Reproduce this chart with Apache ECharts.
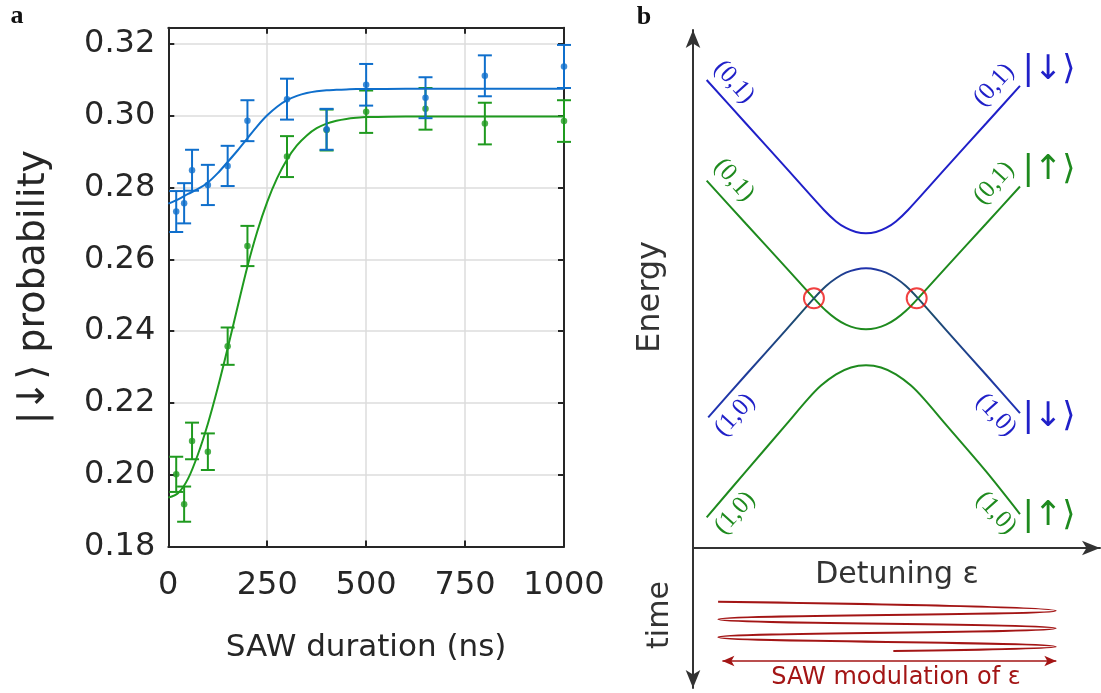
<!DOCTYPE html>
<html><head><meta charset="utf-8">
<script src="https://cdn.jsdelivr.net/npm/echarts@6/dist/echarts.min.js"></script>
<style>html,body{margin:0;padding:0;background:#fff}#c{width:1101px;height:693px}</style>
</head><body><div id="c"></div>
<script>
// ---------- panel a data ----------
const durations = [20, 40, 60, 100, 150, 200, 300, 400, 500, 650, 800, 1000];
const downProb = [0.2733, 0.2756, 0.2848, 0.2807, 0.2860, 0.2986, 0.3046, 0.2962, 0.3086, 0.3050, 0.3111, 0.3137];
const downErr  = [0.0057, 0.0056, 0.0057, 0.0056, 0.0056, 0.0057, 0.0057, 0.0057, 0.0058, 0.0057, 0.0057, 0.0060];
const upProb   = [0.2001, 0.1918, 0.2094, 0.2064, 0.2358, 0.2637, 0.2886, 0.2960, 0.3011, 0.3019, 0.2978, 0.2985];
const upErr    = [0.0049, 0.0049, 0.0051, 0.0051, 0.0052, 0.0056, 0.0057, 0.0057, 0.0059, 0.0058, 0.0058, 0.0058];
const fitX    = [0, 25, 50, 75, 100, 125, 150, 175, 200, 225, 250, 275, 300, 325, 350, 375, 400, 425, 450, 475, 500, 600, 800, 1000];
const fitDown = [0.2755, 0.2767, 0.2782, 0.2796, 0.2814, 0.2840, 0.2871, 0.2903, 0.2937, 0.2971, 0.3001, 0.3025, 0.3043, 0.3055, 0.3063, 0.3068, 0.3071, 0.3072, 0.3073, 0.3074, 0.3074, 0.3075, 0.3075, 0.3075];
const fitUp   = [0.1936, 0.1949, 0.1989, 0.2057, 0.2142, 0.2242, 0.2352, 0.2467, 0.2580, 0.2678, 0.2760, 0.2826, 0.2878, 0.2917, 0.2945, 0.2965, 0.2978, 0.2986, 0.2991, 0.2994, 0.2996, 0.2998, 0.2998, 0.2998];
const xTicks = [0, 250, 500, 750, 1000];
const yTicks = [0.18, 0.20, 0.22, 0.24, 0.26, 0.28, 0.30, 0.32];

// ---------- panel b data (detuning, energy in arbitrary units) ----------
const level01Down = [[-0.921,9.035],[-0.694,8.195],[-0.462,7.338],[-0.243,6.525],[-0.173,6.305],[-0.116,6.178],[-0.058,6.100],[0,6.075],[0.058,6.100],[0.116,6.178],[0.173,6.305],[0.243,6.525],[0.462,7.338],[0.694,8.195],[0.890,8.921]];
const level01Up   = [[-0.921,7.091],[-0.694,6.259],[-0.462,5.413],[-0.301,4.820],[-0.231,4.579],[-0.173,4.423],[-0.116,4.311],[-0.058,4.245],[0,4.222],[0.058,4.245],[0.116,4.311],[0.173,4.423],[0.231,4.579],[0.301,4.820],[0.462,5.413],[0.694,6.259],[0.890,6.979]];
const level10Down = [[-0.912,2.523],[-0.694,3.344],[-0.462,4.212],[-0.301,4.820],[-0.231,5.058],[-0.173,5.207],[-0.116,5.315],[-0.058,5.378],[0,5.400],[0.058,5.378],[0.116,5.315],[0.173,5.207],[0.231,5.058],[0.301,4.820],[0.462,4.212],[0.694,3.344],[0.890,2.604]];
const level10Up   = [[-0.921,0.593],[-0.694,1.479],[-0.462,2.382],[-0.335,2.878],[-0.260,3.135],[-0.173,3.353],[-0.087,3.485],[0,3.527],[0.087,3.485],[0.173,3.353],[0.260,3.135],[0.335,2.878],[0.462,2.382],[0.694,1.479],[0.890,0.656]];
const crossings   = [[-0.301,4.820],[0.293,4.820]];
// SAW sweep: detuning vs time (time axis points downward)
const sawWave = [[-0.855,3.84],[1.097,4.48],[-0.854,5.09],[1.097,5.74],[-0.854,6.38],[1.097,7.05],[0.158,7.36]];
const sawArrowX = [-0.83, 1.10];
const sawArrowT = 8.07;

const BLUE = '#0f6fcc', GREEN = '#1f9a1f';
const LBLUE = '#2020c8', LGREEN = '#1e8a1e', RED = '#a31515';
const AX = '#262626';
const SANS = '"DejaVu Sans", "Liberation Sans", sans-serif';
const SERIF = '"Liberation Serif", serif';

function zip(xs, ys) { return xs.map((x, i) => [x, ys[i]]); }
function errData(xs, ys, es) { return xs.map((x, i) => [x, ys[i], es[i]]); }
function errRender(color) {
  return function (params, api) {
    const x = api.value(0), y = api.value(1), e = api.value(2);
    const t = api.coord([x, y + e]), b = api.coord([x, y - e]);
    const hw = 7, st = { stroke: color, lineWidth: 2 };
    return { type: 'group', children: [
      { type: 'line', shape: { x1: t[0], y1: t[1], x2: b[0], y2: b[1] }, style: st },
      { type: 'line', shape: { x1: t[0] - hw, y1: t[1], x2: t[0] + hw, y2: t[1] }, style: st },
      { type: 'line', shape: { x1: b[0] - hw, y1: b[1], x2: b[0] + hw, y2: b[1] }, style: st }
    ]};
  };
}
const yFmt = v => yTicks.some(t => Math.abs(t - v) < 1e-6) ? v.toFixed(2) : '';
const xFmt = v => xTicks.some(t => Math.abs(t - v) < 1e-6) ? String(Math.round(v)) : '';

const boxAxis = {
  axisLine: { show: true, onZero: false, lineStyle: { color: AX, width: 2 } },
  axisTick: { show: true, inside: true, length: 6, lineStyle: { color: AX, width: 2 } }
};
const hidden = { show: false };
function arrowLine(sym) {
  return { show: true, onZero: false, symbol: sym, symbolSize: [11, 18], lineStyle: { color: '#333', width: 2 } };
}
function txt(x, y, text, font, fill, rot) {
  return { type: 'text', x: x, y: y, rotation: rot || 0,
    style: { text: text, font: font, fill: fill, align: 'center', verticalAlign: 'middle' } };
}
const D45 = 0.84;

const chart = echarts.init(document.getElementById('c'), null, { renderer: 'canvas' });
chart.setOption({
  animation: false,
  grid: [
    { left: 168.3, top: 27.7, width: 395.7, height: 518.8 },
    { left: 693, top: 30, width: 407, height: 518 },
    { left: 693, top: 548, width: 407, height: 140 }
  ],
  xAxis: [
    Object.assign({ gridIndex: 0, type: 'value', min: 0, max: 1000, interval: 250, position: 'bottom',
      axisLabel: { formatter: xFmt, margin: 23, fontSize: 32, fontFamily: SANS, color: AX },
      splitLine: { show: true, lineStyle: { color: '#dcdcdc', width: 1.5 } },
      name: 'SAW duration (ns)', nameLocation: 'middle', nameGap: 86,
      nameTextStyle: { fontSize: 31, fontFamily: SANS, color: AX } }, boxAxis),
    Object.assign({ gridIndex: 0, type: 'value', min: 0, max: 1000, interval: 250, position: 'top',
      axisLabel: { show: false }, splitLine: { show: false } }, boxAxis),
    { gridIndex: 1, type: 'value', min: -1, max: 1.3526, axisLine: arrowLine(['none', 'arrow']),
      axisTick: hidden, axisLabel: hidden, splitLine: hidden },
    { gridIndex: 2, type: 'value', min: -1, max: 1.3526, show: false }
  ],
  yAxis: [
    Object.assign({ gridIndex: 0, type: 'value', min: 0.18, max: 0.3245, interval: 0.02, position: 'left',
      axisLabel: { formatter: yFmt, margin: 13, fontSize: 32, fontFamily: SANS, color: AX, showMaxLabel: false },
      splitLine: { show: true, lineStyle: { color: '#dcdcdc', width: 1.5 } },
      name: '|↓⟩ probability', nameLocation: 'middle', nameGap: 115, nameRotate: 90,
      nameTextStyle: { fontSize: 38, fontFamily: SANS, color: AX } }, boxAxis),
    Object.assign({ gridIndex: 0, type: 'value', min: 0.18, max: 0.3245, interval: 0.02, position: 'right',
      axisLabel: { show: false }, splitLine: { show: false } }, boxAxis),
    { gridIndex: 1, type: 'value', min: 0, max: 10, axisLine: arrowLine(['none', 'arrow']),
      axisTick: hidden, axisLabel: hidden, splitLine: hidden },
    { gridIndex: 2, type: 'value', min: 0, max: 10, inverse: true, axisLine: arrowLine(['arrow', 'none']),
      axisTick: hidden, axisLabel: hidden, splitLine: hidden }
  ],
  series: [
    { type: 'line', xAxisIndex: 0, yAxisIndex: 0, data: zip(fitX, fitUp), showSymbol: false, smooth: 0.3,
      lineStyle: { color: GREEN, width: 2 }, z: 3 },
    { type: 'custom', xAxisIndex: 0, yAxisIndex: 0, data: errData(durations, upProb, upErr), renderItem: errRender(GREEN), z: 4 },
    { type: 'scatter', xAxisIndex: 0, yAxisIndex: 0, data: zip(durations, upProb), symbolSize: 6.5,
      itemStyle: { color: GREEN }, z: 5 },
    { type: 'line', xAxisIndex: 0, yAxisIndex: 0, data: zip(fitX, fitDown), showSymbol: false, smooth: 0.3,
      lineStyle: { color: BLUE, width: 2 }, z: 6 },
    { type: 'custom', xAxisIndex: 0, yAxisIndex: 0, data: errData(durations, downProb, downErr), renderItem: errRender(BLUE), z: 7 },
    { type: 'scatter', xAxisIndex: 0, yAxisIndex: 0, data: zip(durations, downProb), symbolSize: 6.5,
      itemStyle: { color: BLUE }, z: 8 },

    { type: 'line', xAxisIndex: 2, yAxisIndex: 2, data: level01Down, showSymbol: false, smooth: 0.3,
      lineStyle: { color: LBLUE, width: 2 } },
    { type: 'line', xAxisIndex: 2, yAxisIndex: 2, data: level01Up, showSymbol: false, smooth: 0.3,
      lineStyle: { color: LGREEN, width: 2 } },
    { type: 'line', xAxisIndex: 2, yAxisIndex: 2, data: level10Down, showSymbol: false, smooth: 0.3,
      lineStyle: { width: 2, color: new echarts.graphic.LinearGradient(0, 0, 1, 0, [
        { offset: 0, color: '#2030b8' }, { offset: 0.34, color: '#1d5066' },
        { offset: 0.5, color: '#2030b0' }, { offset: 0.67, color: '#1d5066' }, { offset: 1, color: '#2030b8' }]) } },
    { type: 'line', xAxisIndex: 2, yAxisIndex: 2, data: level10Up, showSymbol: false, smooth: 0.3,
      lineStyle: { color: LGREEN, width: 2 } },
    { type: 'scatter', xAxisIndex: 2, yAxisIndex: 2, data: crossings, symbol: 'circle', symbolSize: 20,
      itemStyle: { color: 'rgba(0,0,0,0)', borderColor: '#ee1111', borderWidth: 2 }, z: 5 },

    { type: 'line', xAxisIndex: 3, yAxisIndex: 3, data: sawWave, showSymbol: false, smooth: 0.5,
      lineStyle: { color: RED, width: 2 },
      markLine: { silent: true, symbol: ['arrow', 'arrow'], symbolSize: [8, 12], label: { show: false },
        lineStyle: { color: RED, width: 1.5, type: 'solid' },
        data: [[{ coord: [sawArrowX[0], sawArrowT] }, { coord: [sawArrowX[1], sawArrowT] }]] } }
  ],
  graphic: [
    txt(17, 16, 'a', 'bold 26px ' + SERIF, '#111'),
    txt(644, 17, 'b', 'bold 26px ' + SERIF, '#111'),
    txt(651, 297, 'Energy', '32px ' + SANS, '#333', Math.PI / 2),
    txt(897, 575, 'Detuning ε', '30px ' + SANS, '#333'),
    txt(660, 615, 'time', '30px ' + SANS, '#333', Math.PI / 2),
    txt(896, 678, 'SAW modulation of ε', '24px ' + SANS, RED),

    txt(734, 82, '(0,1)', '25px ' + SERIF, LBLUE, -D45),
    txt(994, 85, '(0,1)', '25px ' + SERIF, LBLUE, D45),
    txt(734, 180, '(0,1)', '25px ' + SERIF, LGREEN, -D45),
    txt(994, 183, '(0,1)', '25px ' + SERIF, LGREEN, D45),
    txt(735, 415, '(1,0)', '25px ' + SERIF, LBLUE, D45),
    txt(996, 415, '(1,0)', '25px ' + SERIF, LBLUE, -D45),
    txt(735, 513, '(1,0)', '25px ' + SERIF, LGREEN, D45),
    txt(996, 513, '(1,0)', '25px ' + SERIF, LGREEN, -D45),

    txt(1049, 70, '|↓⟩', '34px ' + SANS, LBLUE),
    txt(1049, 170, '|↑⟩', '34px ' + SANS, LGREEN),
    txt(1049, 417, '|↓⟩', '34px ' + SANS, LBLUE),
    txt(1049, 516, '|↑⟩', '34px ' + SANS, LGREEN)
  ]
});
</script></body></html>
